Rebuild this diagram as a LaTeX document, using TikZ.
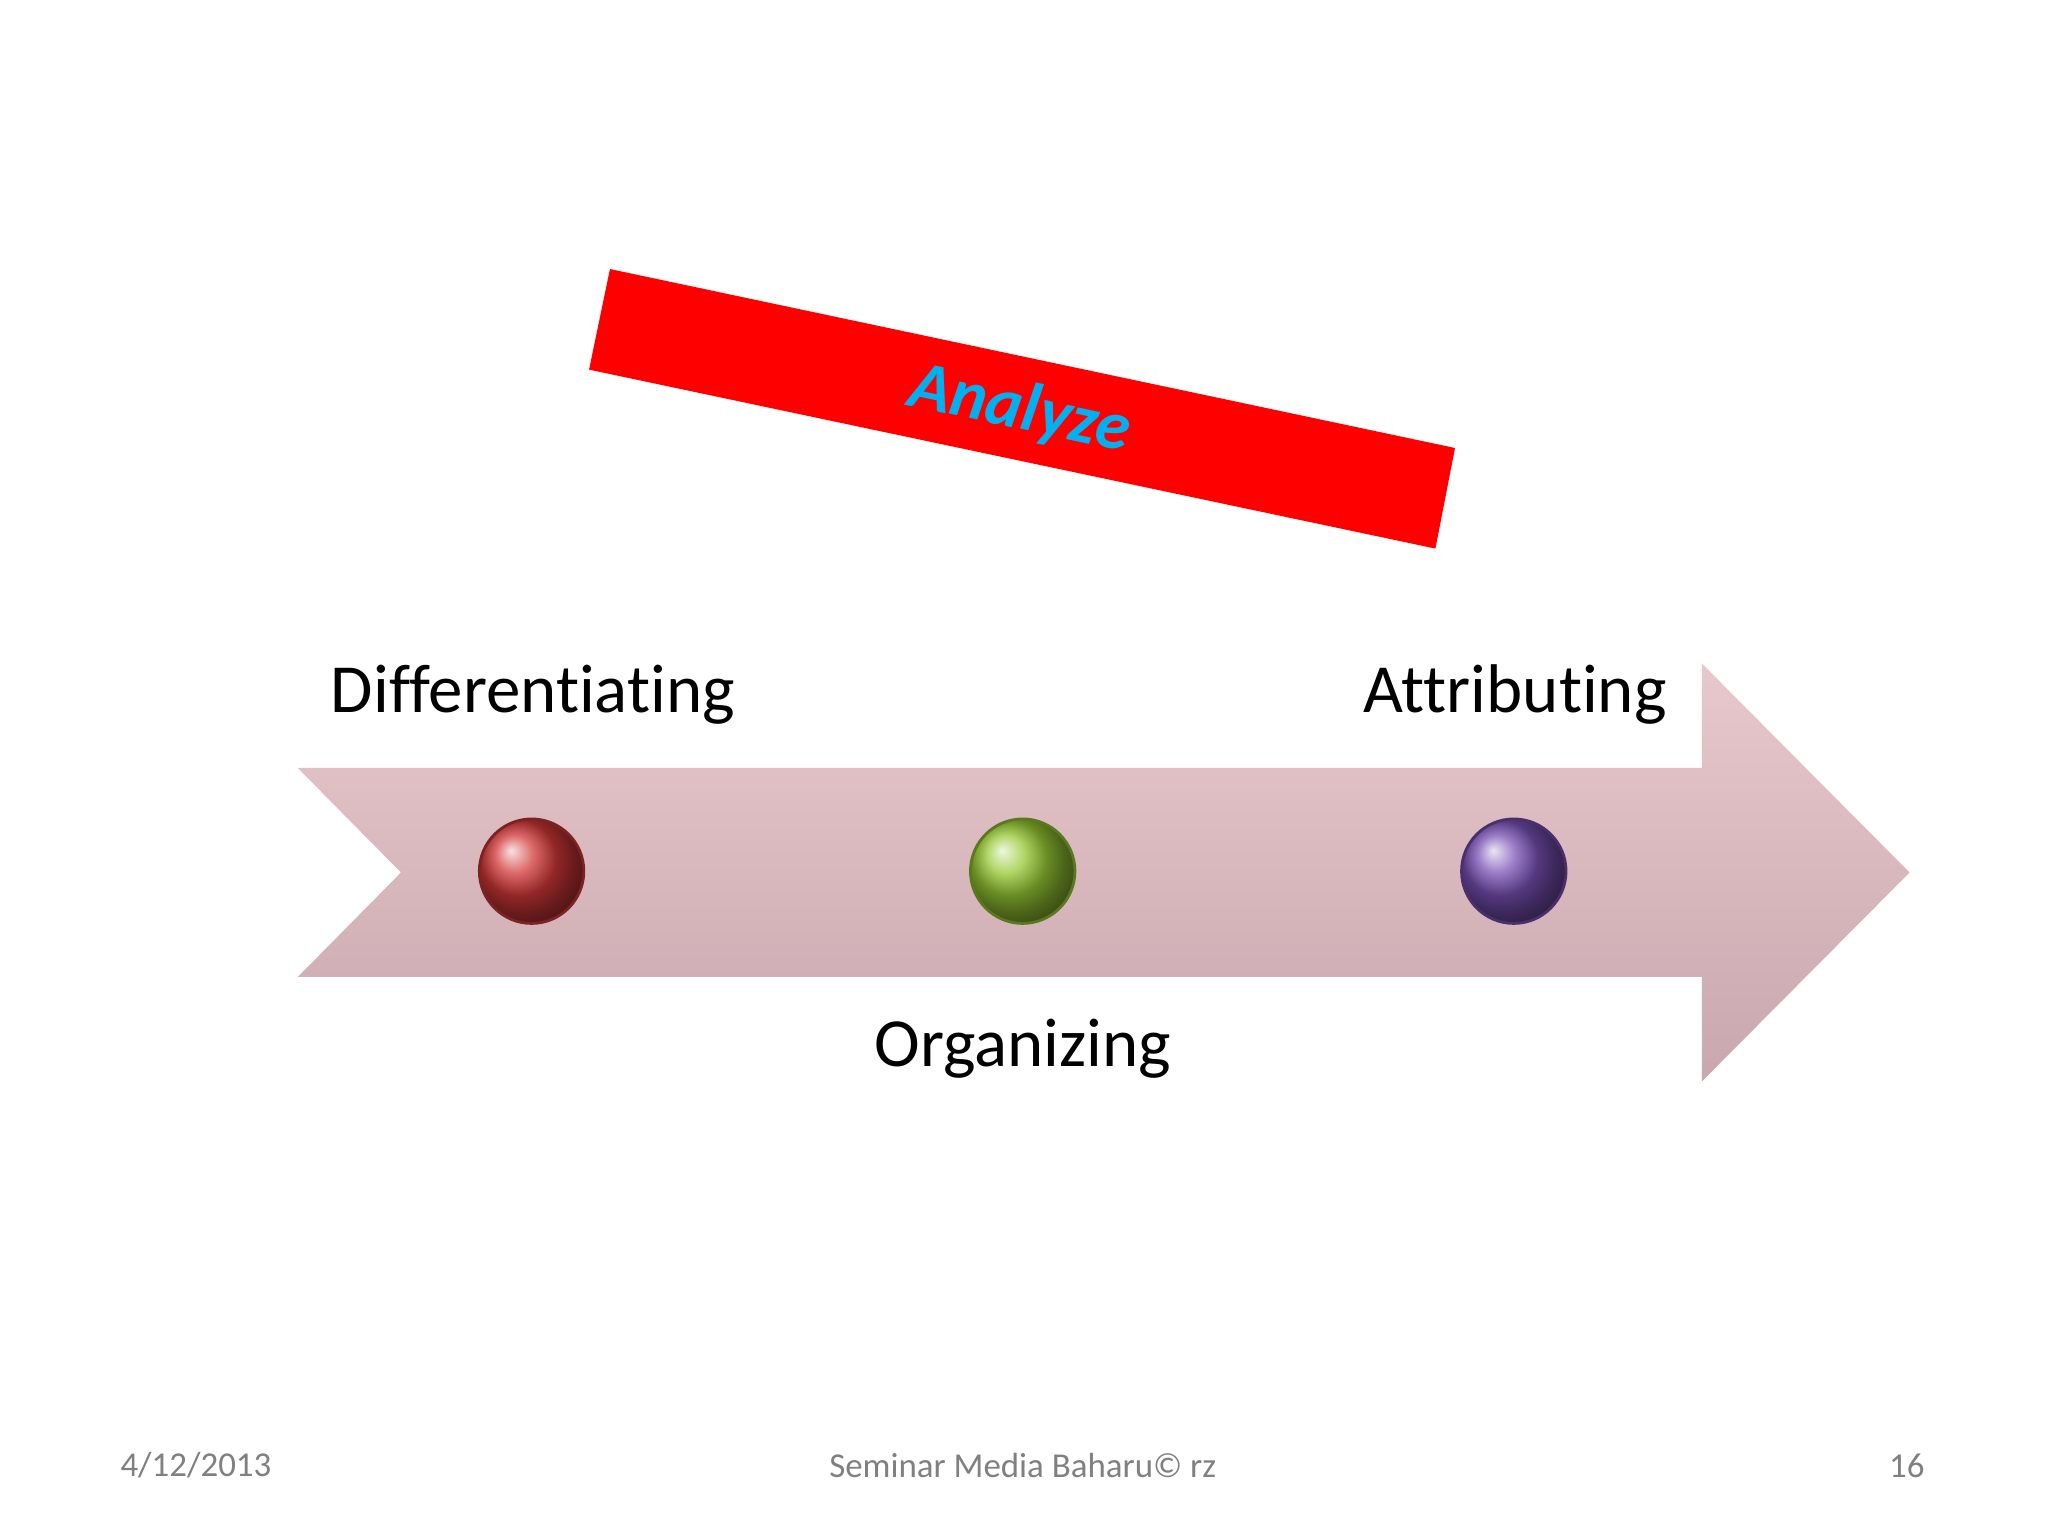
\documentclass[tikz,border=0pt]{standalone}
\usepackage{fontspec}
\setmainfont[Ligatures=NoCommon]{Carlito}
\definecolor{pinkT}{RGB}{232,200,204}
\definecolor{pinkB}{RGB}{200,168,174}
\definecolor{anred}{RGB}{255,0,0}
\definecolor{ancyan}{RGB}{0,176,240}
\definecolor{foot}{RGB}{128,128,128}
\definecolor{rb}{RGB}{210,55,55}
\definecolor{gb}{RGB}{150,200,50}
\definecolor{pb}{RGB}{120,80,180}
\tikzset{
  lbl/.style={font=\fontsize{15}{18}\selectfont, text=black},
  ft/.style={font=\fontsize{7.6}{10}\selectfont, text=foot},
  ballnode/.style={circle, minimum size=0.8cm, inner sep=0pt, draw=#1!60!black, line width=0.6pt, ball color=#1}
}
\begin{document}
\begin{tikzpicture}[x=0.01cm,y=-0.01cm]
\useasboundingbox (0,0) rectangle (1568,1176);
\fill[white] (0,0) rectangle (1568,1176);
\shade[top color=pinkT, bottom color=pinkB] (228,588) -- (1303,588) -- (1303,508) -- (1462,668) -- (1303,828) -- (1303,748) -- (228,748) -- (307,668) -- cycle;
\fill[anred] (467,206) -- (1114,343) -- (1099,420) -- (451,283) -- cycle;
\node[rotate=-11.95, text=ancyan, font=\fontsize{15}{18}\selectfont\bfseries\itshape] (an) at (781,314) {Analyze};
\node[ballnode=rb] (b1) at (407,667) {};
\node[ballnode=gb] (b2) at (783,667) {};
\node[ballnode=pb] (b3) at (1159,667) {};
\node[lbl] (d) at (408,532) {Differentiating};
\node[lbl] (o) at (783,803) {Organizing};
\node[lbl] (a) at (1160,532) {Attributing};
\node[ft] (f1) at (150,1122) {4/12/2013};
\node[ft] (f2) at (783,1122) {Seminar Media Baharu© rz};
\node[ft] (f3) at (1460,1122) {16};
\end{tikzpicture}
\end{document}
